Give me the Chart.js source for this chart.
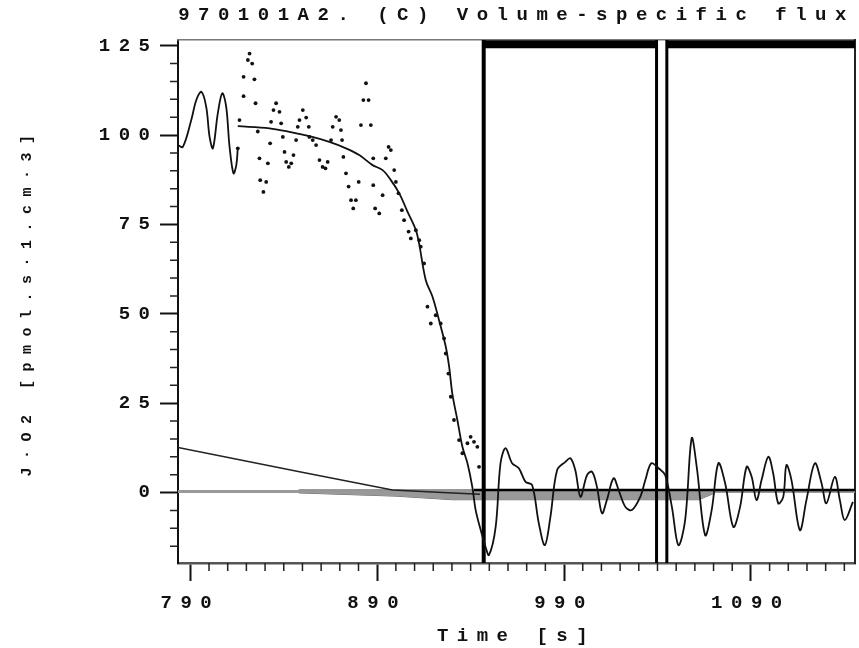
<!DOCTYPE html>
<html>
<head>
<meta charset="utf-8">
<script src="https://cdn.jsdelivr.net/npm/chart.js@4.4.1/dist/chart.umd.min.js"></script>
<style>
  html, body { margin: 0; padding: 0; background: #fff; }
</style>
</head>
<body>
<canvas id="chart" width="859" height="648"></canvas>
<script>
// raw flux trace before the dotted section
const earlyTime = [783.4, 786.0, 790.5, 793.2, 795.9, 798.5, 800.3, 802.1, 804.7, 807.1, 809.2, 811.0, 813.1, 814.6, 815.4];
const earlyFlux = [97.2, 96.7, 104.2, 109.8, 112.1, 107.9, 99.5, 96.3, 106.1, 111.7, 107.9, 96.7, 89.3, 91.6, 96.3];

// raw flux shown as dots
const dotTime = [815.4, 816.3, 818.5, 818.5, 820.8, 821.7, 823.1, 824.3, 824.9, 826.1, 827.0, 827.4, 829.1, 830.6, 831.5,
  832.7, 833.2, 834.5, 835.9, 837.7, 838.6, 839.5, 840.4, 841.3, 842.7, 844.0, 845.2, 846.6, 847.5, 848.4,
  850.2, 852.0, 853.4, 853.7, 855.5, 857.3, 859.1, 860.8, 862.3, 863.5, 865.3, 866.2, 868.0, 869.7, 870.6,
  871.2, 871.9, 873.3, 874.7, 876.0, 877.2, 878.6, 880.1, 881.3, 882.6, 884.0, 885.4, 886.6, 887.9, 887.9,
  888.9, 891.1, 892.9, 894.6, 896.1, 897.3, 899.1, 900.0, 901.4, 903.2, 904.4, 906.8, 908.0, 910.7, 912.5,
  913.3, 915.1, 916.9, 918.7, 921.3, 924.0, 925.8, 926.7, 928.1, 929.4, 931.1, 933.8, 935.6, 938.3, 940.0,
  941.8, 943.6, 944.5];
const dotFlux = [96.3, 104.2, 116.3, 110.9, 121.0, 122.8, 120.0, 115.6, 108.9, 101.0, 93.5, 87.4, 84.1, 86.9, 92.1,
  97.7, 103.7, 107.0, 108.9, 106.5, 103.3, 99.5, 95.3, 92.5, 91.1, 92.1, 94.4, 98.6, 102.3, 104.2,
  107.0, 104.9, 102.3, 99.5, 98.6, 97.2, 93.0, 91.1, 90.7, 92.5, 98.6, 102.3, 105.1, 104.2, 101.4,
  98.6, 93.9, 89.3, 85.6, 81.8, 79.5, 81.8, 86.9, 102.8, 109.8, 114.5, 109.8, 102.8, 93.5, 86.0,
  79.5, 78.1, 83.2, 93.5, 96.7, 95.8, 90.2, 86.9, 83.7, 79.0, 76.2, 73.0, 71.1, 73.4, 70.6,
  68.8, 64.1, 52.0, 47.3, 49.6, 47.3, 43.1, 38.9, 33.3, 26.8, 20.3, 14.7, 11.0, 13.8, 15.6,
  14.2, 12.8, 7.2];

// smoothed flux, then the oscillating trace after the drop
const fitTime = [815.4, 832.4, 843.0, 853.7, 864.4, 873.3, 880.4, 887.5, 892.9, 897.3, 901.8, 906.2, 910.7, 912.4, 916.0,
  919.6, 923.1, 926.7, 928.5, 930.2, 932.9, 935.6, 938.3, 940.9, 942.7, 945.4, 948.0, 949.8, 953.4, 956.0,
  958.7, 962.2, 965.8, 969.4, 972.9, 976.5, 979.7, 982.7, 986.3, 990.7, 993.4, 996.0, 998.8, 1002.3, 1005.0,
  1007.6, 1010.3, 1012.9, 1016.5, 1019.2, 1022.8, 1026.3, 1030.8, 1033.5, 1036.7, 1040.6, 1044.1, 1047.7, 1051.2, 1054.8,
  1058.3, 1061.0, 1065.5, 1069.0, 1072.6, 1076.2, 1080.6, 1084.2, 1087.7, 1090.4, 1093.0, 1095.7, 1099.3, 1101.9, 1104.6,
  1107.3, 1109.0, 1111.7, 1116.2, 1119.7, 1124.2, 1127.8, 1130.4, 1134.9, 1137.6, 1140.2, 1144.6];
const fitFlux = [102.5, 101.9, 100.9, 99.7, 98.1, 96.3, 94.4, 91.6, 90.2, 87.4, 83.7, 78.6, 73.4, 69.7, 59.4,
  54.8, 48.2, 40.8, 35.2, 27.7, 20.3, 12.8, 8.2, 1.6, -4.9, -10.5, -15.2, -17.5, -9.6, 8.2,
  12.4, 8.2, 6.8, 3.0, 2.1, -8.6, -14.7, -6.8, 6.3, 8.6, 9.6, 6.3, -1.2, 4.9, 5.8,
  1.6, -5.8, -2.1, 4.0, 0.7, -4.0, -4.9, -1.2, 3.5, 8.2, 6.8, 4.9, -4.0, -14.7, -7.7,
  15.2, 7.2, -11.9, -4.9, 8.2, 2.6, -9.6, -4.0, 7.2, 4.4, -2.1, 3.5, 10.0, 5.4, -3.0,
  -1.2, 7.7, 3.5, -10.5, -2.1, 8.2, 2.6, -3.0, 4.4, -2.1, -7.7, -2.6];

// background slope line and reference lines
const baseTime = [783.4, 848.4, 898.2, 925.0, 945.0];
const baseFlux = [12.6, 5.8, 0.7, 0.0, -0.5];
const zeroTime = [941.8, 1145.7];
const zeroFlux = [0.7, 0.7];
const grayTime = [783.4, 1145.7];
const grayFlux = [0.3, 0.3];
const bandTime = [848, 900, 930, 1062, 1070];
const bandUpper = [0.8, 0.8, 0.8, 0.8, 0.8];
const bandLower = [-0.1, -1.0, -2.0, -2.0, -0.3];

// event marks
const markTime = [947, 1039.5, 1045];
const markWidth = [4, 3, 3];
const topBarTime = [[947, 1039.5], [1045, 1145.7]];
const topBarFlux = 125.4;

const xMin = 783.4, xMax = 1145.7;
const yMin = -19.7, yMax = 126.6;
const xMajor = [790, 890, 990, 1090];
const yMajor = [0, 25, 50, 75, 100, 125];

const monoFont = "'Liberation Mono', 'DejaVu Sans Mono', monospace";

function pts(xs, ys) {
  return xs.map((x, i) => ({ x: x, y: Array.isArray(ys) ? ys[i] : ys }));
}

const datasets = [
  { data: pts(fitTime, fitFlux), borderColor: '#111', borderWidth: 1.8, pointRadius: 0, tension: 0.35 },
  { data: pts(earlyTime, earlyFlux), borderColor: '#111', borderWidth: 1.8, pointRadius: 0, tension: 0.35 },
  { data: pts(dotTime, dotFlux), showLine: false, pointRadius: 1.9, pointBackgroundColor: '#111', pointBorderWidth: 0 },
  { data: pts(baseTime, baseFlux), borderColor: '#222', borderWidth: 1.5, pointRadius: 0 },
  { data: pts(zeroTime, zeroFlux), borderColor: '#000', borderWidth: 2.5, pointRadius: 0 }
];
markTime.forEach((t, i) => {
  datasets.push({ data: [{ x: t, y: yMin }, { x: t, y: yMax }], borderColor: '#000', borderWidth: markWidth[i], pointRadius: 0 });
});
topBarTime.forEach(r => {
  datasets.push({ data: pts(r, topBarFlux), borderColor: '#000', borderWidth: 8, pointRadius: 0 });
});
datasets.push({ data: pts(bandTime, bandUpper), borderColor: '#888', borderWidth: 1, pointRadius: 0, fill: '+1', backgroundColor: '#999' });
datasets.push({ data: pts(bandTime, bandLower), borderColor: '#666', borderWidth: 1, pointRadius: 0 });
datasets.push({ data: pts(grayTime, grayFlux), borderColor: '#999', borderWidth: 3, pointRadius: 0 });

const spacing = {
  id: 'spacing',
  beforeLayout(chart) { chart.ctx.letterSpacing = '8.5px'; },
  beforeDraw(chart) { chart.ctx.letterSpacing = '8.5px'; }
};

const minorTicks = {
  id: 'minorTicks',
  afterDraw(chart) {
    const ctx = chart.ctx, x = chart.scales.x, y = chart.scales.y;
    ctx.save();
    ctx.strokeStyle = '#222';
    ctx.lineWidth = 1.5;
    ctx.beginPath();
    for (let t = 790; t <= xMax; t += 10) {
      if (xMajor.includes(t)) continue;
      const px = x.getPixelForValue(t);
      ctx.moveTo(px, x.top);
      ctx.lineTo(px, x.top + 8);
    }
    for (let v = -15; v <= 125; v += 5) {
      if (yMajor.includes(v)) continue;
      const py = y.getPixelForValue(v);
      ctx.moveTo(y.right - 8, py);
      ctx.lineTo(y.right, py);
    }
    ctx.stroke();
    ctx.restore();
  }
};

new Chart(document.getElementById('chart').getContext('2d'), {
  type: 'line',
  data: { datasets: datasets },
  options: {
    responsive: false,
    animation: false,
    parsing: false,
    layout: { padding: { left: 0, right: 2, top: 0, bottom: 0 } },
    plugins: {
      legend: { display: false },
      tooltip: { enabled: false },
      title: {
        display: true,
        text: '970101A2. (C) Volume-specific flux',
        fullSize: false,
        color: '#111',
        font: { family: monoFont, size: 19, weight: 'bold' },
        padding: { top: 4, bottom: 13.2 }
      }
    },
    scales: {
      x: {
        type: 'linear',
        position: 'bottom',
        min: xMin, max: xMax,
        afterBuildTicks: axis => { axis.ticks = xMajor.map(v => ({ value: v })); },
        afterFit: axis => { axis.height = 85; },
        ticks: { color: '#111', padding: 11, maxRotation: 0, callback: v => String(v), font: { family: monoFont, size: 19, weight: 'bold' } },
        grid: { drawOnChartArea: false, tickLength: 18, tickColor: '#111', tickWidth: 2 },
        border: { color: '#555', width: 2.5 },
        title: {
          display: true, text: 'Time [s]', color: '#111',
          font: { family: monoFont, size: 19, weight: 'bold' },
          padding: { top: 0, bottom: 0.5 }
        }
      },
      y: {
        type: 'linear',
        position: 'left',
        min: yMin, max: yMax,
        afterBuildTicks: axis => { axis.ticks = yMajor.map(v => ({ value: v })); },
        afterFit: axis => { axis.width = 178; },
        ticks: { color: '#111', padding: 1.5, callback: v => String(v), font: { family: monoFont, size: 19, weight: 'bold' } },
        grid: { drawOnChartArea: false, tickLength: 18, tickColor: '#111', tickWidth: 2 },
        border: { color: '#111', width: 2 },
        title: {
          display: true, text: 'J·O2 [pmol.s·1.cm·3]', color: '#111',
          font: { family: monoFont, size: 15, weight: 'bold' },
          padding: { top: 18 }
        }
      },
      x2: {
        type: 'linear', position: 'top', min: xMin, max: xMax,
        afterFit: axis => { axis.height = 0; },
        ticks: { display: false },
        grid: { drawOnChartArea: false, drawTicks: false },
        border: { color: '#777', width: 1.5 }
      },
      y2: {
        type: 'linear', position: 'right', min: yMin, max: yMax,
        afterFit: axis => { axis.width = 0; },
        ticks: { display: false },
        grid: { drawOnChartArea: false, drawTicks: false },
        border: { color: '#222', width: 2 }
      }
    }
  },
  plugins: [spacing, minorTicks]
});
</script>
</body>
</html>
